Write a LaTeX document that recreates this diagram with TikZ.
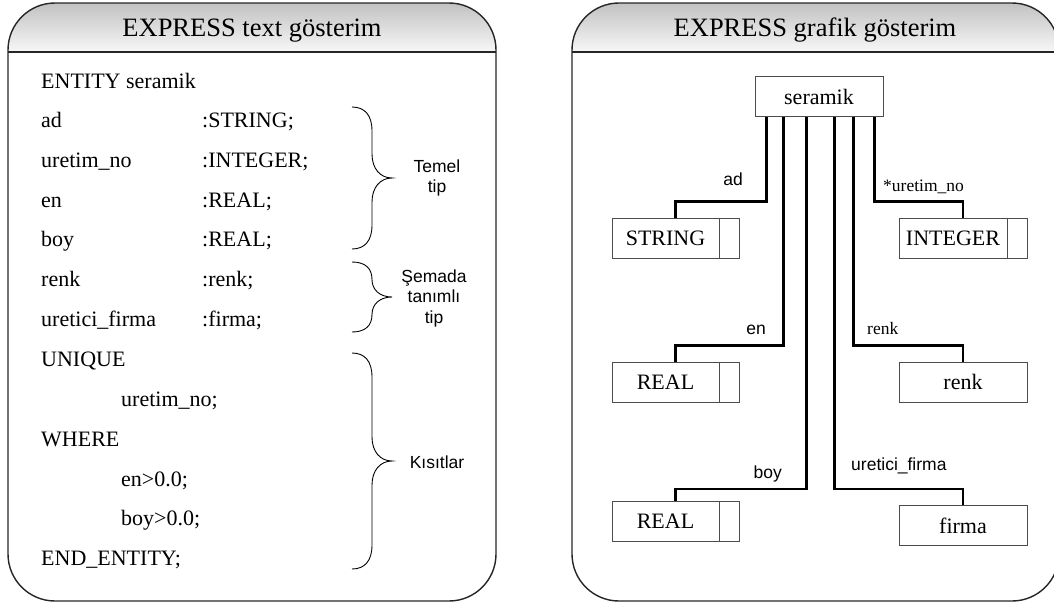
\documentclass[tikz,border=0pt]{standalone}
\usepackage{fontspec}
\setmainfont{Liberation Serif}
\newfontfamily\labelsans{Liberation Sans}
\begin{document}
\begin{tikzpicture}[x=1pt,y=-1pt,
  panel/.style={draw=black!85, line width=1.4pt, rounded corners=47pt},
  hdrshade/.style={top color=black!24, bottom color=black!3},
  hdr/.style={font=\fontsize{26.5}{30}\selectfont, anchor=base, inner sep=0pt},
  code/.style={font=\fontsize{22}{26}\selectfont, anchor=base west, inner sep=0pt},
  note/.style={font=\labelsans\fontsize{17.5}{20.5}\selectfont, align=center, inner sep=0pt},
  rolesans/.style={font=\labelsans\fontsize{17.5}{20}\selectfont, inner sep=0pt},
  roleserif/.style={font=\fontsize{17.5}{20}\selectfont, inner sep=0pt},
  ent/.style={draw=black!70, line width=0.8pt, minimum height=40pt, inner sep=0pt},
  enttext/.style={font=\fontsize{22}{26}\selectfont, inner sep=0pt},
  link/.style={line width=2.6pt},
  pics/curlybrace/.style 2 args={code={
    \draw[line width=0.9pt]
      (0,-#1) .. controls (13,-#1) and (20,{-#1+0.35*#2}) .. (20,{-#1+#2})
      -- (20,-#2) .. controls (20,{-0.4*#2}) and (28,0) .. (40,0)
      .. controls (28,0) and (20,{0.4*#2}) .. (20,#2)
      -- (20,{#1-#2}) .. controls (20,{#1-0.35*#2}) and (13,#1) .. (0,#1);
  }}
]
\useasboundingbox (0,0) rectangle (1054,605);

% ---- left panel: textual form ----
\begin{scope}
  \clip[rounded corners=47pt] (8,3) rectangle (496,601);
  \shade[hdrshade] (8,3) rectangle (496,52);
\end{scope}
\draw[panel] (8,3) rectangle (496,601);
\draw[line width=1.4pt, black!85] (8,52) -- (496,52);
\node[hdr] (lefthdr) at (252,36) {EXPRESS text gösterim};

\node[code] (l0) at (41,88) {ENTITY seramik};
\node[code] (l1a) at (41,127.5) {ad};
\node[code] (l1b) at (202,127.5) {:STRING;};
\node[code] (l2a) at (41,167) {uretim\_no};
\node[code] (l2b) at (202,167) {:INTEGER;};
\node[code] (l3a) at (41,207) {en};
\node[code] (l3b) at (202,207) {:REAL;};
\node[code] (l4a) at (41,246.5) {boy};
\node[code] (l4b) at (202,246.5) {:REAL;};
\node[code] (l5a) at (41,286.5) {renk};
\node[code] (l5b) at (202,286.5) {:renk;};
\node[code] (l6a) at (41,326.5) {uretici\_firma};
\node[code] (l6b) at (202,326.5) {:firma;};
\node[code] (l7) at (41,366) {UNIQUE};
\node[code] (l8) at (121,406) {uretim\_no;};
\node[code] (l9) at (41,446) {WHERE};
\node[code] (l10) at (121,486) {en>0.0;};
\node[code] (l11) at (121,525.5) {boy>0.0;};
\node[code] (l12) at (41,565.5) {END\_ENTITY;};

\pic at (352,178) {curlybrace={71}{24}};
\pic at (352,297) {curlybrace={35}{17.5}};
\pic at (352,461) {curlybrace={108}{24}};
\node[note] (temel) at (437,178) {Temel\\tip};
\node[note] (semada) at (434,298) {Şemada\\tanımlı\\tip};
\node[note] (kisit) at (437,462) {Kısıtlar};

% ---- right panel: graphical form ----
\begin{scope}
  \clip[rounded corners=47pt] (572,3) rectangle (1059,601);
  \shade[hdrshade] (572,3) rectangle (1059,52);
\end{scope}
\draw[panel] (572,3) rectangle (1059,601);
\draw[line width=1.4pt, black!85] (572,52) -- (1059,52);
\node[hdr] (righthdr) at (815,36) {EXPRESS grafik gösterim};

\node[ent, minimum width=128pt] (ser) at (819,96.5) {};
\node[enttext] (sertxt) at (ser.center) {seramik};

\node[ent, minimum width=127pt] (str) at (675.5,238) {};
\node[enttext] (strtxt) at ([xshift=-10pt]str.center) {STRING};
\node[ent, minimum width=128pt] (int) at (963,238) {};
\node[enttext] (inttxt) at ([xshift=-10pt]int.center) {INTEGER};
\node[ent, minimum width=127pt] (realA) at (675.5,382) {};
\node[enttext] (realAtxt) at ([xshift=-10pt]realA.center) {REAL};
\node[ent, minimum width=128pt] (renk) at (963,382) {};
\node[enttext] (renktxt) at (renk.center) {renk};
\node[ent, minimum width=127pt] (realB) at (675.5,521.5) {};
\node[enttext] (realBtxt) at ([xshift=-10pt]realB.center) {REAL};
\node[ent, minimum width=128pt] (firma) at (963,525.5) {};
\node[enttext] (firmatxt) at (firma.center) {firma};

% small end cells of the simple-type boxes
\foreach \b in {str,int,realA,realB}
  \draw[black!70, line width=0.8pt] ([xshift=-20pt]\b.north east) -- ([xshift=-20pt]\b.south east);

% attribute relationships
\draw[link] ([xshift=12pt]ser.south west) |- ([yshift=16pt]str.north) -- (str.north);
\draw[link] ([xshift=29pt]ser.south west) |- ([yshift=16pt]realA.north) -- (realA.north);
\draw[link] ([xshift=52pt]ser.south west) |- ([yshift=12pt]realB.north) -- (realB.north);
\draw[link] ([xshift=80pt]ser.south west) |- ([yshift=16pt]firma.north) -- (firma.north);
\draw[link] ([xshift=99pt]ser.south west) |- ([yshift=16pt]renk.north) -- (renk.north);
\draw[link] ([xshift=120pt]ser.south west) |- ([yshift=16pt]int.north) -- (int.north);

\node[rolesans, anchor=base east] (rad) at (743,185) {ad};
\node[roleserif, anchor=base west] (runo) at (883,191) {*uretim\_no};
\node[rolesans, anchor=base east] (ren) at (766,334) {en};
\node[roleserif, anchor=base west] (rrenk) at (867,334) {renk};
\node[rolesans, anchor=base east] (rboy) at (782,478) {boy};
\node[rolesans, anchor=base west] (rfirma) at (851,470) {uretici\_firma};
\end{tikzpicture}
\end{document}
